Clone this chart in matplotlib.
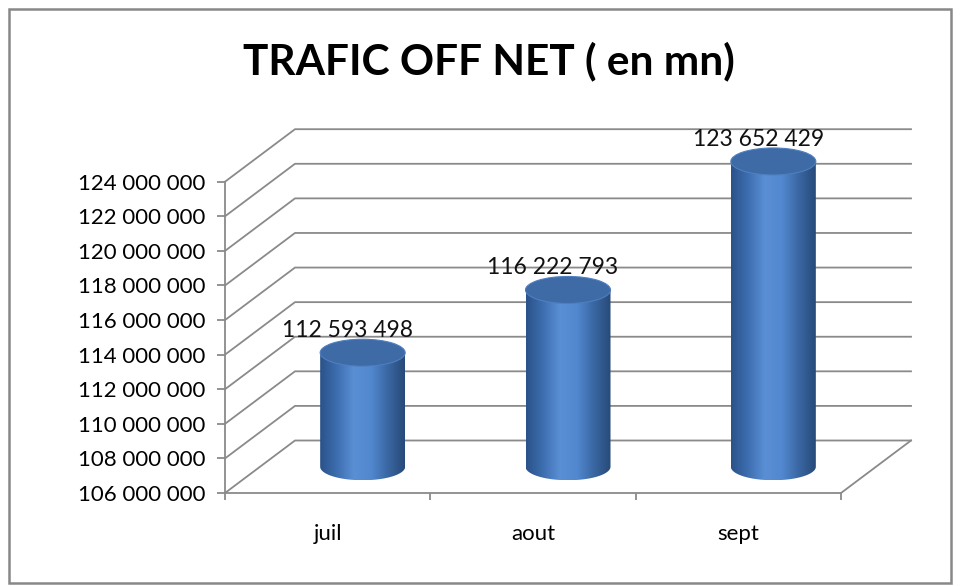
import numpy as np
import matplotlib.pyplot as plt
from matplotlib.patches import Ellipse, Rectangle, PathPatch
from matplotlib.path import Path
from matplotlib.colors import LinearSegmentedColormap
from matplotlib.ticker import FuncFormatter

plt.rcParams['font.family'] = ['Lato', 'DejaVu Sans']

months = ['juil', 'aout', 'sept']
trafic = [112593498, 116222793, 123652429]
ymin, ymax, ystep = 106_000_000, 124_000_000, 2_000_000

fig = plt.figure(figsize=(9.6, 5.86), dpi=100)
W, H = 960, 586
ax = fig.add_axes([225 / W, 1 - 493 / H, (841 - 225) / W, (493 - 181.7) / H])
ax.set_xlim(0, len(months))
ax.set_ylim(ymin, ymax)

# oblique depth of the 3d box, in data units
px_x = len(months) / (841 - 225)
px_y = (ymax - ymin) / (493 - 181.7)
dx, dy = 70 * px_x, 52.5 * px_y

grid_c = '#8a8a8a'
ticks = np.arange(ymin, ymax + 1, ystep)
for v in ticks:
    ax.plot([0, dx, len(months) + dx], [v, v + dy, v + dy], color=grid_c, lw=1.3,
            clip_on=False, zorder=1)
# floor
ax.plot([len(months) + dx, len(months)], [ymin + dy, ymin], color=grid_c, lw=1.3,
        clip_on=False, zorder=1)

# cylinders
hw = 42.5 * px_x
eh = 13.5 * px_y
body_cmap = LinearSegmentedColormap.from_list(
    'body', ['#2b5289', '#3d6eb0', '#5a8fd5', '#5288cf', '#3a67a3', '#274a78'])
grad = np.linspace(0, 1, 256).reshape(1, -1)
for i, v in enumerate(trafic):
    cx = i + 0.5 + dx / 2
    yb = ymin + dy / 2
    yt = v + dy / 2
    t = np.linspace(np.pi, 2 * np.pi, 60)
    arc = np.column_stack([cx + hw * np.cos(t), yb + eh * np.sin(t)])
    verts = np.vstack([[cx - hw, yt], arc, [cx + hw, yt], [cx - hw, yt]])
    path = Path(verts, closed=True)
    patch = PathPatch(path, facecolor='none', edgecolor='none', zorder=3, clip_on=False)
    ax.add_patch(patch)
    im = ax.imshow(grad, cmap=body_cmap, aspect='auto', zorder=3,
                   extent=[cx - hw, cx + hw, yb - eh, yt])
    im.set_clip_path(patch)
    im.set_clip_box(fig.bbox)
    ax.add_patch(Ellipse((cx, yt), 2 * hw, 2 * eh, facecolor='#3e6aa6',
                         edgecolor='#4f7fc0', lw=0.8, zorder=4, clip_on=False))
    ax.text(cx - 15 * px_x, yt + eh - 2 * px_y, f'{v:,}'.replace(',', ' '), ha='center',
            va='bottom', fontsize=16.5, color='#111111', zorder=5, clip_on=False)

ax.set_xlim(0, len(months))
ax.set_ylim(ymin, ymax)

ax.set_yticks(ticks)
ax.yaxis.set_major_formatter(FuncFormatter(lambda v, p: f'{int(v):,}'.replace(',', ' ')))
ax.set_xticks(range(len(months) + 1))
ax.set_xticklabels([])
ax.set_xticks([i + 0.5 for i in range(len(months))], minor=True)
ax.set_xticklabels(months, minor=True)
ax.tick_params(axis='y', length=6, width=1.3, color=grid_c, labelsize=16, pad=8)
ax.tick_params(axis='x', which='major', length=5, width=1.3, color=grid_c)
ax.tick_params(axis='x', which='minor', length=0, labelsize=16, pad=22)

for s in ['top', 'right']:
    ax.spines[s].set_visible(False)
for s in ['left', 'bottom']:
    ax.spines[s].set_color(grid_c)
    ax.spines[s].set_linewidth(1.3)

fig.text(489 / W, 1 - 61 / H, 'TRAFIC OFF NET ( en mn)', ha='center', va='center',
         fontsize=30.5, fontweight='bold', color='black')

fig.patches.append(Rectangle((9 / W, 1 - 583 / H), 942 / W, 574 / H, transform=fig.transFigure,
                             fill=False, edgecolor='#888888', lw=1.8))

fig.savefig('out.png', dpi=100)
